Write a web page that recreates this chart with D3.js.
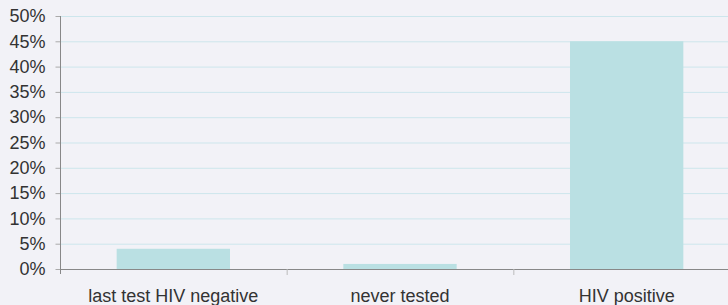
<!DOCTYPE html>
<html>
<head>
<meta charset="utf-8">
<script src="https://cdn.jsdelivr.net/npm/d3@7"></script>
<style>
  html, body { margin: 0; padding: 0; background: #f2f2f7; }
  svg { display: block; }
  text { font-family: "Liberation Sans", Arial, sans-serif; fill: #333; }
</style>
</head>
<body>
<svg id="chart"></svg>
<script>
// Chart data
const categories = ["last test HIV negative", "never tested", "HIV positive"];
const values = [4, 1, 45];
const yTicks = [0, 5, 10, 15, 20, 25, 30, 35, 40, 45, 50];

const width = 728;
const height = 305;

// plot area (right edge runs past the window, as in the reference)
const plot = { left: 60, right: 740, top: 16, bottom: 269 };

const svg = d3.select("#chart")
    .attr("width", width)
    .attr("height", height);

const x = d3.scaleBand()
    .domain(categories)
    .range([plot.left, plot.right])
    .paddingInner(0)
    .paddingOuter(0);

const y = d3.scaleLinear()
    .domain([0, 50])
    .range([plot.bottom, plot.top]);

// Gridlines
svg.append("g")
    .selectAll("line")
    .data(yTicks.filter(d => d > 0))
    .enter()
    .append("line")
    .attr("x1", plot.left)
    .attr("x2", width)
    .attr("y1", d => y(d) + 0.5)
    .attr("y2", d => y(d) + 0.5)
    .style("stroke", "#cde6ec")
    .style("stroke-width", 1);

// Bars: half the band width, centred
const barW = x.bandwidth() / 2;
svg.append("g")
    .selectAll("rect")
    .data(values)
    .enter()
    .append("rect")
    .attr("x", (d, i) => x(categories[i]) + (x.bandwidth() - barW) / 2)
    .attr("y", d => y(d))
    .attr("width", barW)
    .attr("height", d => plot.bottom - y(d))
    .style("fill", "#bae0e3");

// Y axis
const yAxis = svg.append("g")
    .attr("transform", `translate(${plot.left + 0.5},0)`)
    .call(d3.axisLeft(y).tickValues(yTicks).tickFormat(d => d + "%").tickSize(5).tickPadding(10));
yAxis.select(".domain").remove();
yAxis.append("line")
    .attr("x1", 0).attr("x2", 0)
    .attr("y1", plot.top).attr("y2", plot.bottom + 5)
    .style("stroke", "#888");
yAxis.selectAll(".tick line").style("stroke", "#aaa");
yAxis.selectAll(".tick text")
    .style("font-size", "18px")
    .style("fill", "#333");

// X axis line and boundary ticks
svg.append("line")
    .attr("x1", plot.left).attr("x2", width)
    .attr("y1", plot.bottom + 0.5).attr("y2", plot.bottom + 0.5)
    .style("stroke", "#888");

svg.append("g")
    .selectAll("line")
    .data(categories.slice(1))
    .enter()
    .append("line")
    .attr("x1", d => x(d) + 0.5)
    .attr("x2", d => x(d) + 0.5)
    .attr("y1", plot.bottom)
    .attr("y2", plot.bottom + 6)
    .style("stroke", "#bbb");

// Category labels
svg.append("g")
    .selectAll("text")
    .data(categories)
    .enter()
    .append("text")
    .attr("x", d => x(d) + x.bandwidth() / 2)
    .attr("y", 302)
    .attr("text-anchor", "middle")
    .style("font-size", "18px")
    .text(d => d);
</script>
</body>
</html>
